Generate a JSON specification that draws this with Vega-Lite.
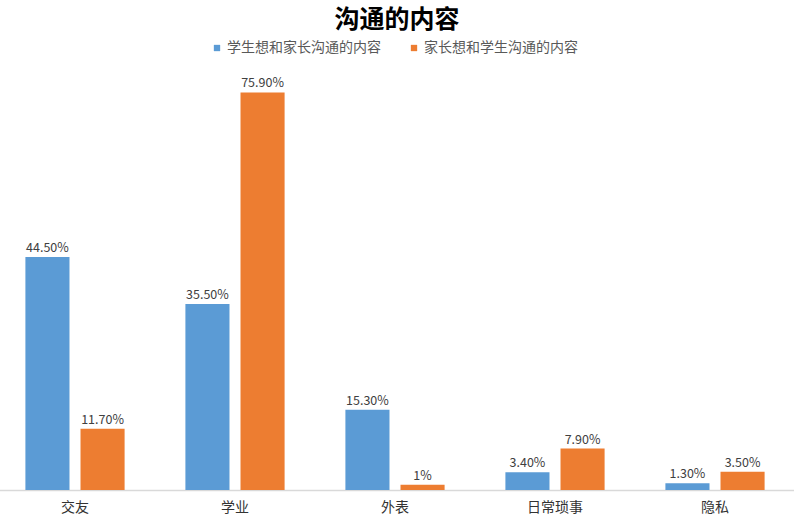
{
  "$schema": "https://vega.github.io/schema/vega-lite/v6.json",
  "width": 794,
  "height": 419,
  "autosize": {"type": "none"},
  "padding": {"left": 0, "top": 71, "right": 0, "bottom": 32},
  "background": "white",
  "config": {
    "view": {"stroke": null},
    "font": "Noto Sans CJK SC"
  },
  "title": {
    "text": "沟通的内容",
    "fontSize": 25,
    "fontWeight": "bold",
    "color": "#000000",
    "anchor": "middle",
    "offset": 8
  },
  "data": {
    "values": [
      {"category": "交友", "series": "学生想和家长沟通的内容", "value": 44.5, "label": "44.50%"},
      {"category": "交友", "series": "家长想和学生沟通的内容", "value": 11.7, "label": "11.70%"},
      {"category": "学业", "series": "学生想和家长沟通的内容", "value": 35.5, "label": "35.50%"},
      {"category": "学业", "series": "家长想和学生沟通的内容", "value": 75.9, "label": "75.90%"},
      {"category": "外表", "series": "学生想和家长沟通的内容", "value": 15.3, "label": "15.30%"},
      {"category": "外表", "series": "家长想和学生沟通的内容", "value": 1, "label": "1%"},
      {"category": "日常琐事", "series": "学生想和家长沟通的内容", "value": 3.4, "label": "3.40%"},
      {"category": "日常琐事", "series": "家长想和学生沟通的内容", "value": 7.9, "label": "7.90%"},
      {"category": "隐私", "series": "学生想和家长沟通的内容", "value": 1.3, "label": "1.30%"},
      {"category": "隐私", "series": "家长想和学生沟通的内容", "value": 3.5, "label": "3.50%"}
    ]
  },
  "encoding": {
    "x": {
      "field": "category",
      "type": "nominal",
      "sort": ["交友", "学业", "外表", "日常琐事", "隐私"],
      "scale": {"range": [-5, 795], "paddingInner": 0.38, "paddingOuter": 0.19},
      "axis": {
        "title": null,
        "labelAngle": 0,
        "ticks": false,
        "domainColor": "#d9d9d9",
        "domainWidth": 1.5,
        "labelFontSize": 14,
        "labelColor": "#333333",
        "labelPadding": 10
      }
    },
    "xOffset": {
      "field": "series",
      "type": "nominal",
      "sort": ["学生想和家长沟通的内容", "家长想和学生沟通的内容"],
      "scale": {"paddingInner": 0.2, "paddingOuter": 0}
    },
    "y": {
      "field": "value",
      "type": "quantitative",
      "scale": {"domain": [0, 80]},
      "axis": null
    }
  },
  "layer": [
    {
      "mark": {"type": "bar"},
      "encoding": {
        "color": {
          "field": "series",
          "type": "nominal",
          "sort": ["学生想和家长沟通的内容", "家长想和学生沟通的内容"],
          "scale": {"range": ["#5B9BD5", "#ED7D31"]},
          "legend": {
            "title": null,
            "orient": "none",
            "legendX": 210,
            "legendY": -30,
            "direction": "horizontal",
            "symbolType": "square",
            "symbolSize": 40,
            "labelFontSize": 14,
            "labelColor": "#595959",
            "labelOffset": 3,
            "columnPadding": 26
          }
        }
      }
    },
    {
      "mark": {"type": "text", "dy": -9, "fontSize": 12.5, "color": "#404040"},
      "encoding": {
        "text": {"field": "label", "type": "nominal"}
      }
    }
  ]
}
